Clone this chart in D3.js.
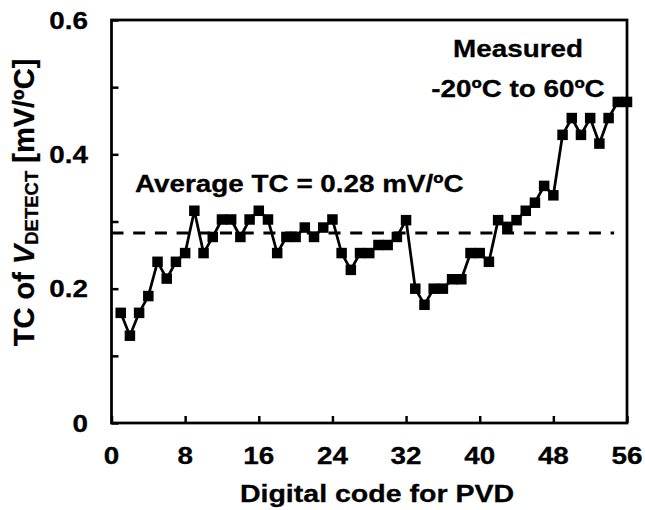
<!DOCTYPE html>
<html>
<head>
<meta charset="utf-8">
<script src="https://cdn.jsdelivr.net/npm/d3@7"></script>
<style>
  body { margin: 0; background: #fff; }
  text { font-family: "Liberation Sans", Arial, sans-serif; font-weight: bold; fill: #000; }
</style>
</head>
<body>
<svg id="chart" width="645" height="510"></svg>
<script>
var codes = [1, 2, 3, 4, 5, 6, 7, 8, 9, 10, 11, 12, 13, 14, 15, 16, 17, 18, 19, 20,
             21, 22, 23, 24, 25, 26, 27, 28, 29, 30, 31, 32, 33, 34, 35, 36, 37, 38, 39, 40,
             41, 42, 43, 44, 45, 46, 47, 48, 49, 50, 51, 52, 53, 54, 55, 56];
var tcValues = [0.164, 0.130, 0.164, 0.189, 0.240, 0.215, 0.240, 0.253, 0.316, 0.253,
                0.277, 0.303, 0.303, 0.277, 0.303, 0.316, 0.303, 0.253, 0.277, 0.277,
                0.291, 0.277, 0.291, 0.303, 0.253, 0.228, 0.253, 0.253, 0.265, 0.265,
                0.277, 0.302, 0.200, 0.176, 0.200, 0.200, 0.214, 0.214, 0.253, 0.253,
                0.240, 0.302, 0.292, 0.302, 0.316, 0.328, 0.353, 0.339, 0.429, 0.454,
                0.429, 0.454, 0.416, 0.454, 0.478, 0.478];
var averageTC = 0.283;
var averageSpan = [0, 54.6];
var xTicks = [0, 8, 16, 24, 32, 40, 48, 56];
var yTicks = [0, 0.1, 0.2, 0.3, 0.4, 0.5, 0.6];
var yTickLabels = [0, 0.2, 0.4, 0.6];

var svg = d3.select("#chart");
var plot = { left: 111.5, right: 627, top: 20, bottom: 423 };
var stretch = 1.16;   // text in the picture is a bit wider than plain Arial

var x = d3.scaleLinear().domain([0, 56]).range([plot.left, plot.right]);
var y = d3.scaleLinear().domain([0, 0.6]).range([plot.bottom, plot.top]);

function label(txt, px, py, anchor, size){
    return svg.append("text")
        .attr("transform", "translate(" + px + "," + py + ") scale(" + stretch + ",1)")
        .attr("text-anchor", anchor)
        .style("font-size", size + "px")
        .style("stroke", "#000").style("stroke-width", 0.3)
        .text(txt);
}

// axes, ticks inside
var xAxis = svg.append("g")
    .attr("transform", "translate(0," + plot.bottom + ")")
    .call(d3.axisBottom(x).tickValues(xTicks).tickSize(-7).tickFormat(""));
var yAxis = svg.append("g")
    .attr("transform", "translate(" + plot.left + ",0)")
    .call(d3.axisLeft(y).tickValues(yTicks).tickSize(-7).tickFormat(""));
[xAxis, yAxis].forEach(function(g){
    g.select(".domain").remove();
    g.selectAll("line").attr("stroke", "#000").attr("stroke-width", 2.5);
});

// frame
svg.append("rect")
    .attr("x", plot.left).attr("y", plot.top)
    .attr("width", plot.right - plot.left).attr("height", plot.bottom - plot.top)
    .attr("fill", "none").attr("stroke", "#000").attr("stroke-width", 2.75);

// tick labels
xTicks.forEach(function(t){ label(t, x(t), 463.5, "middle", 24); });
yTickLabels.forEach(function(t){ label(t, 88, y(t) + 8.5, "end", 24); });

// average line
svg.append("line")
    .attr("x1", x(averageSpan[0])).attr("x2", x(averageSpan[1]))
    .attr("y1", y(averageTC)).attr("y2", y(averageTC))
    .attr("stroke", "#000").attr("stroke-width", 3)
    .attr("stroke-dasharray", "12,9.7");

// data line + markers
var points = codes.map(function(c, i){ return [c, tcValues[i]]; });
svg.append("path")
    .datum(points)
    .attr("fill", "none").attr("stroke", "#000").attr("stroke-width", 2.75)
    .attr("d", d3.line().x(function(d){ return x(d[0]); }).y(function(d){ return y(d[1]); }));
svg.selectAll(".marker")
    .data(points)
    .enter().append("rect")
    .attr("class", "marker")
    .attr("x", function(d){ return x(d[0]) - 5.25; })
    .attr("y", function(d){ return y(d[1]) - 5.25; })
    .attr("width", 10.5).attr("height", 10.5)
    .attr("fill", "#000");

// annotations
label("Measured", 518, 57, "middle", 24);
label("-20ºC to 60ºC", 518, 96.5, "middle", 24);
label("Average TC = 0.28 mV/ºC", 135, 191.5, "start", 24);

// axis titles
label("Digital code for PVD", 377, 501.5, "middle", 24.6);

var yTitle = svg.append("text")
    .attr("transform", "translate(33.5,202.5) rotate(-90)")
    .attr("text-anchor", "middle")
    .style("font-size", "29px")
    .style("stroke", "#000").style("stroke-width", 0.3);
yTitle.append("tspan").text("TC of ");
yTitle.append("tspan").style("font-style", "italic").text("V");
yTitle.append("tspan").style("font-size", "18.5px").attr("dy", 4).text("DETECT");
yTitle.append("tspan").attr("dy", -4).text(" [mV/ºC]");
</script>
</body>
</html>
